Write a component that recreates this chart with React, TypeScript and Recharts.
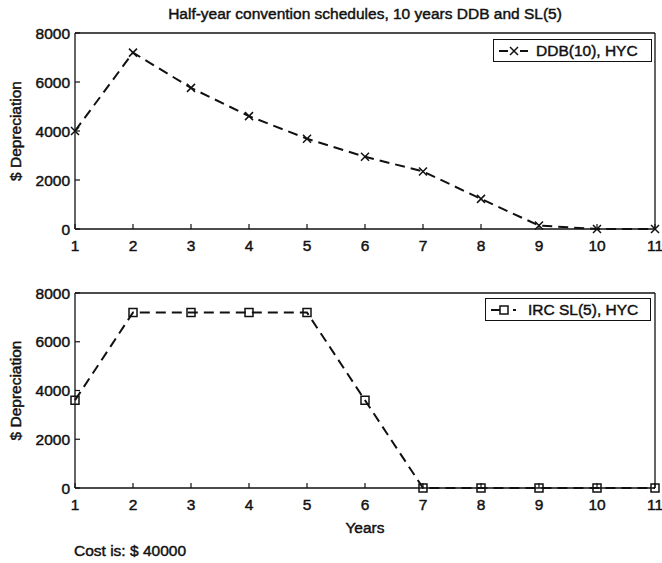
import React from 'react';
import { LineChart, Line, XAxis, YAxis, Legend, Label } from 'recharts';

// values (cost $40000)
const years = [1, 2, 3, 4, 5, 6, 7, 8, 9, 10, 11];
const ddbValues = [4000, 7200, 5760, 4608, 3686, 2949, 2350, 1230, 140, 0, 0];
const slValues = [3600, 7200, 7200, 7200, 7200, 3600, 0, 0, 0, 0, 0];
const yearTicks = [1, 2, 3, 4, 5, 6, 7, 8, 9, 10, 11];
const depTicks = [0, 2000, 4000, 6000, 8000];

const titleText = 'Half-year convention schedules, 10 years DDB and SL(5)';
const ddbName = 'DDB(10), HYC';
const slName = 'IRC SL(5), HYC';
const yLabel = '$ Depreciation';
const xLabel = 'Years';
const costNote = 'Cost is: $ 40000';

const rows = years.map((year, i) => ({ year, ddb: ddbValues[i], sl: slValues[i] }));

const FONT = 'Arial, "Liberation Sans", Helvetica, sans-serif';
const INK = '#111';
const FS = 15.5;
const TXT_STROKE = 0.45;

const CrossDot = (p: any) => {
  const { cx, cy } = p;
  if (typeof cx !== 'number' || typeof cy !== 'number') return <g />;
  const s = 4;
  return (
    <path
      d={`M${cx - s},${cy - s}L${cx + s},${cy + s}M${cx - s},${cy + s}L${cx + s},${cy - s}`}
      stroke={INK}
      strokeWidth={1.5}
      fill="none"
    />
  );
};

const SquareDot = (p: any) => {
  const { cx, cy } = p;
  if (typeof cx !== 'number' || typeof cy !== 'number') return <g />;
  const s = 4;
  return <rect x={cx - s} y={cy - s} width={2 * s} height={2 * s} stroke={INK} strokeWidth={1.5} fill="none" />;
};

const LegendBox = ({ label, marker }: { label: string; marker: 'cross' | 'square' }) => (
  <div
    style={{
      border: `1.5px solid ${INK}`,
      background: '#fff',
      height: 23,
      boxSizing: 'border-box',
      display: 'flex',
      alignItems: 'center',
      padding: '0 4px',
      fontFamily: FONT,
      fontSize: FS,
      color: INK,
      whiteSpace: 'nowrap',
      WebkitTextStroke: `${TXT_STROKE}px ${INK}`,
    }}
  >
    <svg width={32} height={14}>
      {marker === 'cross' ? (
        <>
          <line x1={1} y1={7} x2={10} y2={7} stroke={INK} strokeWidth={2} />
          <CrossDot cx={16} cy={7} />
          <line x1={22} y1={7} x2={30} y2={7} stroke={INK} strokeWidth={2} />
        </>
      ) : (
        <>
          <line x1={1} y1={7} x2={10} y2={7} stroke={INK} strokeWidth={2} />
          <SquareDot cx={14} cy={7} />
          <line x1={23} y1={7} x2={26} y2={7} stroke={INK} strokeWidth={2} />
        </>
      )}
    </svg>
    <span style={{ marginLeft: 6 }}>{label}</span>
  </div>
);

const YTitle = ({ viewBox }: any) => {
  const cx = viewBox.x + viewBox.width - 60;
  const cy = viewBox.y + viewBox.height / 2;
  return (
    <text
      x={cx}
      y={cy}
      transform={`rotate(-90, ${cx}, ${cy})`}
      textAnchor="middle"
      dominantBaseline="central"
      fontSize={FS}
      fill={INK}
      stroke={INK}
      strokeWidth={TXT_STROKE}
      fontFamily={FONT}
    >
      {yLabel}
    </text>
  );
};

const XTitle = ({ viewBox }: any) => {
  const cx = viewBox.x + viewBox.width / 2;
  const cy = viewBox.y + 39;
  return (
    <text
      x={cx}
      y={cy}
      textAnchor="middle"
      dominantBaseline="central"
      fontSize={FS}
      fill={INK}
      stroke={INK}
      strokeWidth={TXT_STROKE}
      fontFamily={FONT}
    >
      {xLabel}
    </text>
  );
};

const tickStyle = { fontSize: FS, fill: INK, fontFamily: FONT, stroke: INK, strokeWidth: TXT_STROKE };
const axisLine = { stroke: INK, strokeWidth: 1.3 };
const tickLine = { stroke: INK, strokeWidth: 1.2 };

const Panel = ({
  height,
  marginBottom,
  dataKey,
  marker,
  name,
  showXTitle,
  legendTop,
  legendLeft,
  legendWidth,
}: {
  height: number;
  marginBottom: number;
  dataKey: string;
  marker: 'cross' | 'square';
  name: string;
  showXTitle: boolean;
  legendTop: number;
  legendLeft: number;
  legendWidth: number;
}) => (
  <LineChart
    width={662}
    height={height}
    data={rows}
    margin={{ top: 23, right: 2, left: 35, bottom: marginBottom }}
  >
    <XAxis
      dataKey="year"
      type="number"
      domain={[1, 11]}
      ticks={yearTicks}
      interval={0}
      height={30}
      tickSize={-5}
      tickMargin={16}
      tick={tickStyle}
      axisLine={axisLine}
      tickLine={tickLine}
    >
      {showXTitle && <Label content={<XTitle />} />}
    </XAxis>
    <XAxis
      xAxisId="top"
      orientation="top"
      dataKey="year"
      type="number"
      domain={[1, 11]}
      ticks={yearTicks}
      interval={0}
      height={10}
      tickSize={-5}
      tick={false}
      axisLine={axisLine}
      tickLine={tickLine}
    />
    <YAxis
      type="number"
      domain={[0, 8000]}
      ticks={depTicks}
      interval={0}
      width={40}
      tickSize={-5}
      tickMargin={10}
      tick={tickStyle}
      axisLine={axisLine}
      tickLine={tickLine}
    >
      <Label content={<YTitle />} />
    </YAxis>
    <YAxis
      yAxisId="right"
      orientation="right"
      type="number"
      domain={[0, 8000]}
      ticks={depTicks}
      interval={0}
      width={5}
      tickSize={-5}
      tick={false}
      axisLine={axisLine}
      tickLine={tickLine}
    />
    <Legend
      layout="vertical"
      align="center"
      verticalAlign="middle"
      wrapperStyle={{ top: legendTop, left: legendLeft, width: legendWidth }}
      content={() => <LegendBox label={name} marker={marker} />}
    />
    <Line
      type="linear"
      dataKey={dataKey}
      stroke={INK}
      strokeWidth={2}
      strokeDasharray="10 6"
      dot={marker === 'cross' ? CrossDot : SquareDot}
      activeDot={false}
      isAnimationActive={false}
    />
  </LineChart>
);

export default function App() {
  return (
    <div
      style={{
        position: 'absolute',
        left: 0,
        top: 0,
        width: 662,
        height: 563,
        background: '#fff',
        fontFamily: FONT,
        color: INK,
        overflow: 'hidden',
        WebkitTextStroke: `${TXT_STROKE}px ${INK}`,
      }}
    >
      <div
        style={{
          position: 'absolute',
          top: 5,
          left: 75,
          width: 580,
          textAlign: 'center',
          fontSize: FS,
          lineHeight: '18px',
          whiteSpace: 'nowrap',
        }}
      >
        {titleText}
      </div>
      <div style={{ position: 'absolute', top: 0, left: 0 }}>
        <Panel
          height={260}
          marginBottom={1}
          dataKey="ddb"
          marker="cross"
          name={ddbName}
          showXTitle={false}
          legendTop={39}
          legendLeft={493}
          legendWidth={159}
        />
      </div>
      <div style={{ position: 'absolute', top: 260, left: 0 }}>
        <Panel
          height={290}
          marginBottom={32}
          dataKey="sl"
          marker="square"
          name={slName}
          showXTitle={true}
          legendTop={38}
          legendLeft={485}
          legendWidth={166}
        />
      </div>
      <div
        style={{
          position: 'absolute',
          top: 542,
          left: 74,
          fontSize: FS,
          lineHeight: '18px',
          whiteSpace: 'nowrap',
        }}
      >
        {costNote}
      </div>
    </div>
  );
}
